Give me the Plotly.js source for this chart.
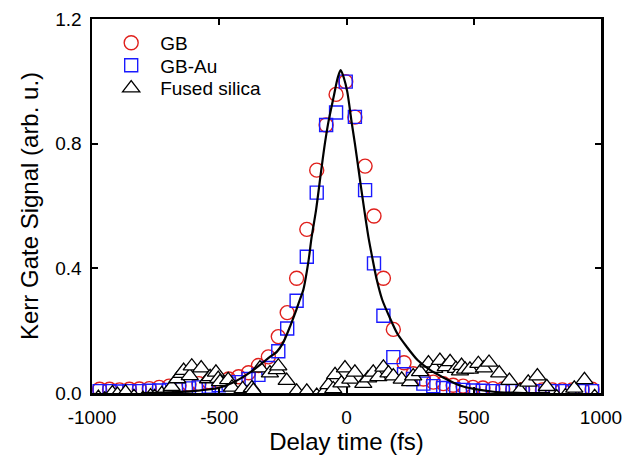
<!DOCTYPE html>
<html>
<head>
<meta charset="utf-8">
<script src="https://cdn.plot.ly/plotly-3.0.1.min.js"></script>
<style>html,body{margin:0;padding:0;background:#fff;}#chart{width:639px;height:463px;}</style>
</head>
<body>
<div id="chart"></div>
<script>
// Delay (fs) grid of the GB / GB-Au measurements
const delayGB = [-970, -931, -892, -853, -814, -775, -736, -697, -658, -619, -580, -541, -502, -463, -424, -385, -346, -307, -268, -233, -196, -156, -117, -80, -41, -3, 33, 73, 108, 145, 184, 226, 262, 302, 341, 380, 419, 458, 497, 536, 575, 614, 653, 692, 731, 770, 809, 848, 887, 926, 965];
const signalGB = [0.012, 0.012, 0.010, 0.012, 0.013, 0.014, 0.018, 0.022, 0.024, 0.028, 0.030, 0.036, 0.040, 0.045, 0.052, 0.065, 0.088, 0.116, 0.181, 0.258, 0.368, 0.525, 0.715, 0.860, 0.958, 0.999, 0.885, 0.728, 0.568, 0.368, 0.204, 0.097, 0.062, 0.045, 0.035, 0.030, 0.025, 0.022, 0.018, 0.016, 0.014, 0.013, 0.012, 0.011, 0.010, 0.010, 0.010, 0.010, 0.010, 0.011, 0.012];
const signalGBAu = [0.006, 0.006, 0.005, 0.006, 0.006, 0.007, 0.008, 0.010, 0.012, 0.015, 0.018, 0.020, 0.025, 0.030, 0.035, 0.045, 0.058, 0.080, 0.134, 0.207, 0.296, 0.437, 0.643, 0.860, 0.900, 0.999, 0.886, 0.651, 0.416, 0.248, 0.115, 0.060, 0.045, 0.030, 0.022, 0.016, 0.012, 0.010, 0.008, 0.007, 0.006, 0.006, 0.006, 0.006, 0.006, 0.006, 0.006, 0.006, 0.006, 0.006, 0.006];

// Fused silica
const delaySilica = [-975, -950, -920, -900, -868, -835, -800, -770, -754, -726, -700, -687, -665, -648, -640, -616, -608, -571, -544, -536, -513, -504, -497, -465, -450, -408, -372, -366, -340, -301, -274, -268, -235, -196, -156, -117, -90, -71, -52, -45, -20, -6, 15, 33, 66, 85, 105, 125, 145, 165, 184, 217, 250, 262, 289, 322, 345, 367, 390, 407, 430, 446, 452, 466, 485, 518, 540, 560, 600, 640, 682, 714, 750, 787, 826, 860, 895, 935, 975];
const signalSilica = [-0.015, -0.020, 0.000, -0.005, 0.002, -0.012, -0.018, -0.010, -0.012, -0.003, 0.000, 0.020, 0.045, 0.062, 0.072, 0.055, 0.086, 0.080, 0.045, 0.052, 0.066, 0.046, 0.036, 0.042, 0.018, 0.013, 0.016, 0.008, 0.080, 0.064, 0.074, 0.086, 0.040, 0.005, 0.005, -0.008, 0.000, 0.026, 0.013, 0.058, 0.032, 0.080, 0.044, 0.066, 0.030, 0.048, 0.066, 0.052, 0.082, 0.064, 0.054, 0.044, 0.036, 0.054, 0.068, 0.096, 0.078, 0.104, 0.084, 0.100, 0.078, 0.070, 0.088, 0.076, 0.076, 0.094, 0.080, 0.098, 0.064, 0.040, 0.008, 0.034, 0.054, 0.020, -0.013, -0.010, 0.015, 0.042, -0.012];

// Fit curve
const delayFit = [-800, -700, -600, -536, -500, -450, -407, -379, -340, -301, -274, -250, -222, -200, -183, -170, -150, -137, -120, -100, -85, -71, -49, -35, -23, -10, 3, 20, 33, 46, 66, 86, 100, 119, 140, 171, 200, 236, 280, 328, 380, 446, 500, 577, 650, 700, 800];
const signalFit = [0.000, 0.002, 0.006, 0.012, 0.017, 0.032, 0.051, 0.066, 0.090, 0.116, 0.132, 0.160, 0.213, 0.260, 0.300, 0.330, 0.420, 0.500, 0.585, 0.710, 0.800, 0.870, 0.956, 1.010, 1.036, 1.010, 0.967, 0.870, 0.800, 0.725, 0.609, 0.501, 0.440, 0.363, 0.300, 0.240, 0.190, 0.149, 0.105, 0.074, 0.050, 0.024, 0.013, 0.004, 0.001, 0.000, 0.000];

const xTickVals = [-1000, -500, 0, 500, 1000];
const xTickText = ['-1000', '-500', '0', '500', '1000'];
const yTickVals = [0.0, 0.4, 0.8, 1.2];
const yTickText = ['0.0', '0.4', '0.8', '1.2'];

const FONT = 'Liberation Sans, Arial, sans-serif';

const traces = [
  {x: delayGB, y: signalGB, name: 'GB', type: 'scatter', mode: 'markers', legend: 'legend',
   marker: {symbol: 'circle-open', size: 14, color: '#e0201c', line: {width: 1.4, color: '#e0201c'}}},
  {x: delayGB, y: signalGBAu, name: 'GB-Au', type: 'scatter', mode: 'markers', legend: 'legend2',
   marker: {symbol: 'square-open', size: 13, color: '#1a1aff', line: {width: 1.4, color: '#1a1aff'}}},
  {x: delaySilica, y: signalSilica, name: 'Fused silica', type: 'scatter', mode: 'markers', legend: 'legend3',
   marker: {symbol: 'triangle-up', size: 15, color: '#ffffff', line: {width: 1.3, color: '#000000'}}},
  {x: delayFit, y: signalFit, name: 'fit', type: 'scatter', mode: 'lines', showlegend: false,
   line: {color: '#000000', width: 2.2, shape: 'spline', smoothing: 0.8}}
];

const axisCommon = {
  showline: true, linecolor: '#000', linewidth: 2.5, mirror: 'ticks',
  ticks: 'inside', ticklen: 6, tickwidth: 2, tickcolor: '#000',
  showgrid: false, zeroline: false,
  tickfont: {family: FONT, size: 19, color: '#000'}
};

function legendAt(y) {
  return {
    x: 0.02, y: y, xanchor: 'left', yanchor: 'middle',
    bgcolor: 'rgba(0,0,0,0)', borderwidth: 0, itemwidth: 48,
    font: {family: FONT, size: 19, color: '#000'}
  };
}

const layout = {
  width: 639, height: 463,
  margin: {l: 92, r: 38, t: 19, b: 70},
  paper_bgcolor: '#fff', plot_bgcolor: '#fff',
  font: {family: FONT, color: '#000'},
  xaxis: Object.assign({}, axisCommon, {
    range: [-1000, 1000], tickvals: xTickVals, ticktext: xTickText,
    ticklabelstandoff: 6,
    title: {text: 'Delay time (fs)', font: {family: FONT, size: 24}, standoff: 6}
  }),
  yaxis: Object.assign({}, axisCommon, {
    range: [0, 1.2], tickvals: yTickVals, ticktext: yTickText,
    ticklabelstandoff: 4,
    title: {text: 'Kerr Gate Signal (arb. u.)', font: {family: FONT, size: 24}, standoff: 10}
  }),
  legend: legendAt(0.936),
  legend2: legendAt(0.876),
  legend3: legendAt(0.815),
  showlegend: true
};

Plotly.newPlot('chart', traces, layout, {displayModeBar: false, staticPlot: true});
</script>
</body>
</html>
